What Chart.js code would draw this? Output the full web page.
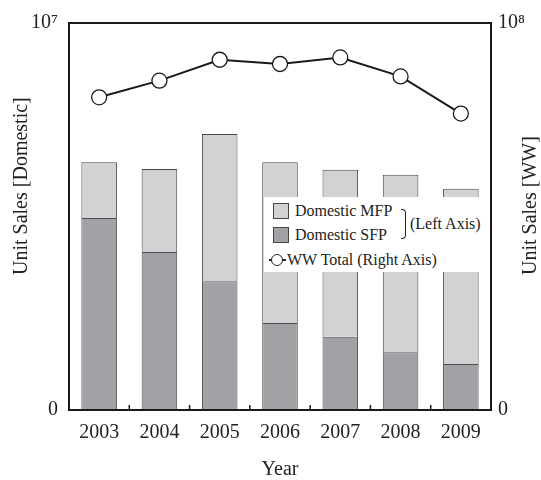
<!DOCTYPE html>
<html>
<head>
<meta charset="utf-8">
<script src="https://cdn.jsdelivr.net/npm/chart.js@4.4.1/dist/chart.umd.min.js"></script>
<style>
    body { margin: 0; background: #fff; }
    #cadreGraphique { position: relative; width: 541px; height: 480px; font-family: "Liberation Serif", serif; color: #222; }
    #legende { position: absolute; left: 264px; top: 197px; width: 225px; height: 75px; background: #fff; font-size: 16px; }
    #legende .texte { position: absolute; line-height: 20px; white-space: nowrap; }
    #legende .carre { position: absolute; left: 9px; width: 14px; height: 14px; border: 1px solid #444; }
    #accolade { position: absolute; left: 137px; top: 12px; width: 4px; height: 28px; border: 1.5px solid #222; border-left: none; border-radius: 0 4px 4px 0; }
    #traitWW { position: absolute; left: 5px; top: 62px; width: 17px; height: 1.5px; background: #222; }
    #rondWW { position: absolute; left: 7px; top: 57px; width: 10px; height: 10px; border: 1.3px solid #222; border-radius: 50%; background: #fff; }
</style>
</head>
<body>
<div id="cadreGraphique">
    <canvas id="chartVentes" width="541" height="480"></canvas>
    <div id="legende">
        <span class="carre" id="carreMFP" style="top:6px"></span>
        <div class="texte" id="texteMFP" style="left:31px; top:4px"></div>
        <span class="carre" id="carreSFP" style="top:30px"></span>
        <div class="texte" id="texteSFP" style="left:31px; top:28px"></div>
        <div id="accolade"></div>
        <div class="texte" style="left:146px; top:17px">(Left Axis)</div>
        <div id="traitWW"></div>
        <div id="rondWW"></div>
        <div class="texte" id="texteWW" style="left:23px; top:53px"></div>
    </div>
</div>
<script>
    const annees = ['2003', '2004', '2005', '2006', '2007', '2008', '2009']
    const ventesSFP = [4960000, 4080000, 3330000, 2250000, 1890000, 1490000, 1190000]
    const ventesMFP = [1440000, 2150000, 3800000, 4150000, 4320000, 4590000, 4530000]
    const ventesWW = [80800000, 85100000, 90500000, 89400000, 91100000, 86200000, 76600000]

    const ticksGauche = ['0', '10⁷']
    const ticksDroite = ['0', '10⁸']

    const policeTicks = { family: 'Liberation Serif', size: 20 }

    // cadre noir, petites graduations du bas et titres verticaux
    const cadre = {
        id: 'cadre',
        afterDraw(chart) {
            const { ctx, chartArea: a, scales: { x } } = chart
            ctx.save()
            ctx.strokeStyle = '#1a1a1a'
            ctx.lineWidth = 2
            ctx.strokeRect(a.left, a.top, a.right - a.left, a.bottom - a.top)
            ctx.lineWidth = 1.5
            for (let i = 0; i < annees.length - 1; i++) {
                const px = (x.getPixelForTick(i) + x.getPixelForTick(i + 1)) / 2
                ctx.beginPath()
                ctx.moveTo(px, a.bottom)
                ctx.lineTo(px, a.bottom - 5)
                ctx.stroke()
            }
            ctx.font = '20px "Liberation Serif"'
            ctx.fillStyle = '#222'
            ctx.textBaseline = 'middle'
            ctx.textAlign = 'left'
            const titres = [[22, 'Unit Sales [Domestic]'], [531, 'Unit Sales [WW]']]
            titres.forEach(([px, t]) => {
                ctx.save()
                ctx.translate(px, 275)
                ctx.rotate(-Math.PI / 2)
                ctx.fillText(t, 0, 0)
                ctx.restore()
            })
            ctx.restore()
        }
    }

    const data = {
        labels: annees,
        datasets: [
            {
                type: 'line',
                label: 'WW Total (Right Axis)',
                data: ventesWW,
                yAxisID: 'y2',
                order: 0,
                borderColor: '#1a1a1a',
                borderWidth: 2,
                pointRadius: 7.5,
                pointBackgroundColor: '#fff',
                pointBorderColor: '#1a1a1a',
                pointBorderWidth: 1.3,
                tension: 0
            },
            {
                label: 'Domestic SFP',
                data: ventesSFP,
                yAxisID: 'y',
                order: 1,
                backgroundColor: '#a1a2a5',
                borderColor: '#4a4a4a',
                borderWidth: 1
            },
            {
                label: 'Domestic MFP',
                data: ventesMFP,
                yAxisID: 'y',
                order: 1,
                backgroundColor: '#d1d2d4',
                borderColor: '#4a4a4a',
                borderWidth: 1
            }
        ]
    }

    const config = {
        type: 'bar',
        data,
        options: {
            responsive: false,
            animation: false,
            barPercentage: 0.59,
            categoryPercentage: 1,
            layout: { padding: { top: 23, left: 0, right: 0, bottom: 0 } },
            scales: {
                x: {
                    stacked: true,
                    offset: true,
                    grid: { display: false, drawTicks: false },
                    border: { display: false },
                    ticks: { font: policeTicks, color: '#222', padding: 11, maxRotation: 0 },
                    title: {
                        display: true,
                        text: 'Year',
                        color: '#222',
                        font: { family: 'Liberation Serif', size: 20, lineHeight: 1 },
                        padding: { top: 0, bottom: 0 }
                    },
                    afterFit: (s) => { s.height = 70 }
                },
                y: {
                    stacked: true,
                    position: 'left',
                    min: 0,
                    max: 10000000,
                    grid: { display: false, drawTicks: false },
                    border: { display: false },
                    ticks: {
                        stepSize: 10000000,
                        font: policeTicks,
                        color: '#222',
                        padding: 11,
                        callback: (v, i) => ticksGauche[i]
                    },
                    afterFit: (s) => { s.width = 69 }
                },
                y2: {
                    position: 'right',
                    min: 0,
                    max: 100000000,
                    grid: { display: false, drawTicks: false },
                    border: { display: false },
                    ticks: {
                        stepSize: 100000000,
                        font: policeTicks,
                        color: '#222',
                        padding: 7,
                        callback: (v, i) => ticksDroite[i]
                    },
                    afterFit: (s) => { s.width = 50 }
                }
            },
            plugins: {
                legend: { display: false },
                tooltip: { enabled: false }
            }
        },
        plugins: [cadre]
    }

    const myChart = new Chart(document.getElementById('chartVentes'), config)

    // légende maison, reprise des jeux de données
    const [dsWW, dsSFP, dsMFP] = data.datasets
    document.getElementById('texteMFP').textContent = dsMFP.label
    document.getElementById('texteSFP').textContent = dsSFP.label
    document.getElementById('texteWW').textContent = dsWW.label
    document.getElementById('carreMFP').style.background = dsMFP.backgroundColor
    document.getElementById('carreSFP').style.background = dsSFP.backgroundColor
</script>
</body>
</html>
